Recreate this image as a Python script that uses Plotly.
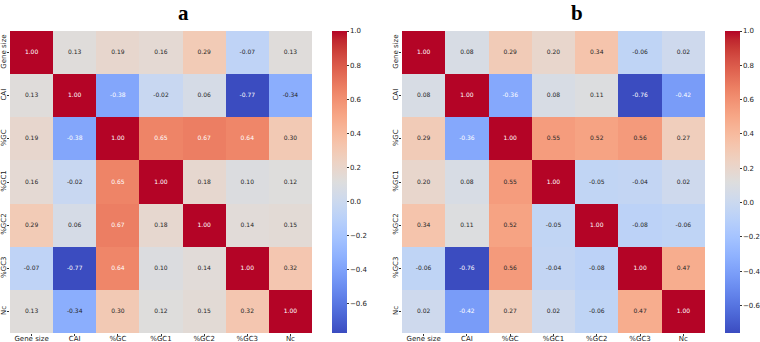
import plotly.graph_objects as go

labels = ["Gene size", "CAI", "%GC", "%GC1", "%GC2", "%GC3", "Nc"]

corr_a = [
    [1.00, 0.13, 0.19, 0.16, 0.29, -0.07, 0.13],
    [0.13, 1.00, -0.38, -0.02, 0.06, -0.77, -0.34],
    [0.19, -0.38, 1.00, 0.65, 0.67, 0.64, 0.30],
    [0.16, -0.02, 0.65, 1.00, 0.18, 0.10, 0.12],
    [0.29, 0.06, 0.67, 0.18, 1.00, 0.14, 0.15],
    [-0.07, -0.77, 0.64, 0.10, 0.14, 1.00, 0.32],
    [0.13, -0.34, 0.30, 0.12, 0.15, 0.32, 1.00],
]
corr_b = [
    [1.00, 0.08, 0.29, 0.20, 0.34, -0.06, 0.02],
    [0.08, 1.00, -0.36, 0.08, 0.11, -0.76, -0.42],
    [0.29, -0.36, 1.00, 0.55, 0.52, 0.56, 0.27],
    [0.20, 0.08, 0.55, 1.00, -0.05, -0.04, 0.02],
    [0.34, 0.11, 0.52, -0.05, 1.00, -0.08, -0.06],
    [-0.06, -0.76, 0.56, -0.04, -0.08, 1.00, 0.47],
    [0.02, -0.42, 0.27, 0.02, -0.06, 0.47, 1.00],
]
titles = ["a", "b"]

cw = [
    (59, 76, 192), (68, 90, 204), (77, 104, 215), (87, 117, 225), (98, 130, 234),
    (108, 142, 241), (119, 154, 247), (130, 165, 251), (141, 176, 254), (152, 185, 255),
    (163, 194, 255), (174, 201, 253), (184, 208, 249), (194, 213, 244), (204, 217, 238),
    (213, 219, 230), (221, 221, 221), (229, 216, 209), (236, 211, 197), (241, 204, 184),
    (245, 196, 172), (247, 187, 159), (247, 177, 147), (247, 166, 134), (244, 154, 123),
    (241, 141, 111), (236, 127, 99), (229, 112, 89), (222, 96, 78), (213, 80, 69),
    (203, 62, 56), (192, 40, 47), (180, 4, 38),
]
n = len(cw) - 1
colorscale = [[i / n, "rgb(%d,%d,%d)" % c] for i, c in enumerate(cw)]


def color_at(t):
    t = min(max(t, 0), 1) * n
    i = min(int(t), n - 1)
    f = t - i
    return [cw[i][k] + (cw[i + 1][k] - cw[i][k]) * f for k in range(3)]


def lum(rgb):
    out = []
    for c in rgb:
        c = c / 255
        out.append(c / 12.92 if c <= 0.03928 else ((c + 0.055) / 1.055) ** 2.4)
    return 0.2126 * out[0] + 0.7152 * out[1] + 0.0722 * out[2]


W, H = 760, 342
panels = [
    dict(x0=10, x1=312, cb=332, tx=183),
    dict(x0=402, x1=705, cb=725, tx=577),
]
y0, y1 = 31, 333

fig = go.Figure()
for p, (corr, title, pan) in enumerate(zip([corr_a, corr_b], titles, panels)):
    flat = [v for r in corr for v in r]
    zmin, zmax = min(flat), max(flat)
    xa = "x" if p == 0 else "x2"
    ya = "y" if p == 0 else "y2"
    fig.add_trace(go.Heatmap(
        z=corr, x=labels, y=labels, colorscale=colorscale, zmin=zmin, zmax=zmax,
        xaxis=xa, yaxis=ya, hoverinfo="skip",
        colorbar=dict(
            x=pan["cb"] / W, xanchor="left", thickness=15, thicknessmode="pixels",
            len=(y1 - y0) / H, lenmode="fraction", y=1 - (y0 + y1) / 2 / H, yanchor="middle",
            outlinewidth=0, tick0=0, dtick=0.2, tickformat=".1f", ticks="outside",
            ticklen=2, tickwidth=0.8, tickcolor="#333", xpad=0, ypad=0,
            tickfont=dict(family="DejaVu Sans", size=7, color="#222"),
        ),
    ))
    tx, ty, tt, tc = [], [], [], []
    for i, row in enumerate(corr):
        for j, v in enumerate(row):
            rgb = color_at((v - zmin) / (zmax - zmin))
            tx.append(labels[j])
            ty.append(labels[i])
            tt.append("%.2f" % v)
            tc.append("#262626" if lum(rgb) > 0.408 else "#ffffff")
    fig.add_trace(go.Scatter(
        x=tx, y=ty, text=tt, mode="text", xaxis=xa, yaxis=ya, hoverinfo="skip",
        textfont=dict(family="DejaVu Sans", size=6, color=tc), showlegend=False,
    ))
    fig.add_annotation(
        x=pan["tx"] / W, y=1, xref="paper", yref="paper", text="<b>%s</b>" % title,
        showarrow=False, font=dict(family="Liberation Serif", size=21, color="black"),
        xanchor="center", yanchor="top", borderpad=0,
    )
    axkw = dict(showgrid=False, zeroline=False, showline=False, ticks="outside", ticklen=2,
                tickwidth=0.8, tickcolor="#333",
                tickfont=dict(family="DejaVu Sans", size=7, color="#222"))
    fig.update_layout(**{
        ("xaxis" if p == 0 else "xaxis2"): dict(domain=[pan["x0"] / W, pan["x1"] / W],
                                               anchor=ya, type="category",
                                               ticklabelstandoff=-3, **axkw),
        ("yaxis" if p == 0 else "yaxis2"): dict(domain=[1 - y1 / H, 1 - y0 / H], anchor=xa,
                                               type="category", autorange="reversed",
                                               tickangle=-90, ticklabelstandoff=-2, **axkw),
    })

fig.update_layout(
    width=W, height=H, margin=dict(l=0, r=0, t=0, b=0, autoexpand=False),
    paper_bgcolor="white", plot_bgcolor="white", showlegend=False,
)
fig.write_html("out.html")
